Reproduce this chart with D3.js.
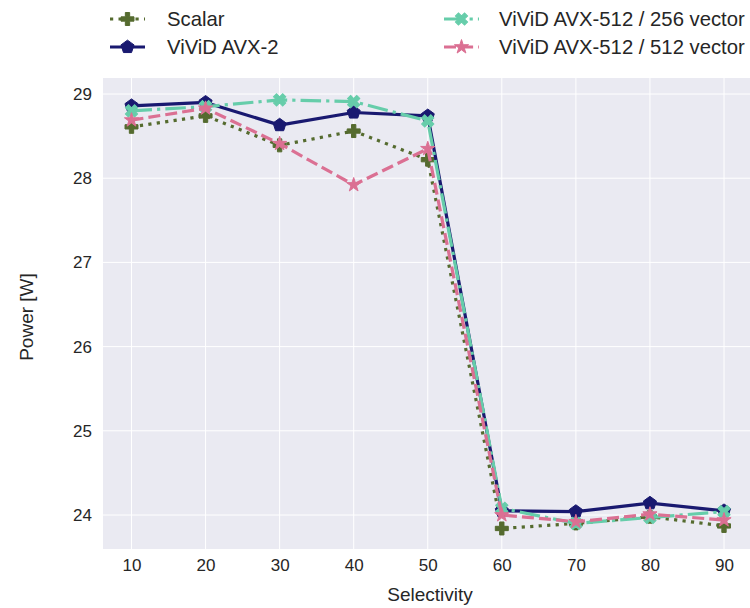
<!DOCTYPE html>
<html><head><meta charset="utf-8">
<script src="https://cdn.jsdelivr.net/npm/d3@7"></script>
<style>body{margin:0;background:#fff;} text{font-family:"Liberation Sans",Arial,sans-serif;fill:#262626;}</style>
</head><body><svg id="c" width="750" height="608"></svg>
<script>
const selectivity = [10,20,30,40,50,60,70,80,90];
const scalar   = [28.61,28.74,28.39,28.56,28.22,23.84,23.90,23.98,23.87];
const avx2     = [28.86,28.90,28.63,28.78,28.74,24.05,24.04,24.14,24.05];
const avx256   = [28.80,28.85,28.93,28.91,28.68,24.08,23.90,23.97,24.04];
const avx512   = [28.69,28.83,28.41,27.92,28.35,24.00,23.92,24.01,23.94];
const seriesNames = ["Scalar","ViViD AVX-2","ViViD AVX-512 / 256 vector","ViViD AVX-512 / 512 vector"];
const yTicks = [24,25,26,27,28,29];

const series = [
 {name:seriesNames[0], values:scalar, color:"#556b2f", dash:"3.2,5.3", marker:"plus"},
 {name:seriesNames[1], values:avx2, color:"#191970", dash:null, marker:"pentagon"},
 {name:seriesNames[2], values:avx256, color:"#66cdaa", dash:"20.5,5.1,3.2,5.1", marker:"x"},
 {name:seriesNames[3], values:avx512, color:"#db7093", dash:"12,5.1", marker:"star"}
];

const svg = d3.select("#c");
const L=103, T=78, B=549, R=750;
const x = d3.scaleLinear().domain([10,90]).range([131.5,724]);
const y = d3.scaleLinear().domain([24,29]).range([515,94]);

svg.append("rect").attr("x",L).attr("y",T).attr("width",R-L).attr("height",B-T).attr("fill","#eaeaf2");
const g = svg.append("g");
g.selectAll(".gx").data(selectivity).join("line").attr("x1",d=>x(d)).attr("x2",d=>x(d)).attr("y1",T).attr("y2",B).attr("stroke","#fff").attr("stroke-width",1);
g.selectAll(".gy").data(yTicks).join("line").attr("x1",L).attr("x2",R).attr("y1",d=>y(d)).attr("y2",d=>y(d)).attr("stroke","#fff").attr("stroke-width",1);

const xa = svg.append("g").attr("transform",`translate(0,${B})`).call(d3.axisBottom(x).tickValues(selectivity).tickSize(0).tickPadding(10).tickFormat(d3.format("d")));
xa.select(".domain").remove();
xa.selectAll("text").style("font-size","17px").attr("fill","#262626");
const ya = svg.append("g").attr("transform",`translate(${L},0)`).call(d3.axisLeft(y).tickValues(yTicks).tickSize(0).tickPadding(11).tickFormat(d3.format("d")));
ya.select(".domain").remove();
ya.selectAll("text").style("font-size","17px").attr("fill","#262626");

svg.append("text").attr("x",430).attr("y",601).attr("text-anchor","middle").style("font-size","19px").text("Selectivity");
svg.append("text").attr("transform","translate(33,317) rotate(-90)").attr("text-anchor","middle").style("font-size","19px").text("Power [W]");

function markerPath(type, s){
  if(type==="plus" || type==="x") return d3.symbol(d3.symbolCross, s*s*0.6)();
  if(type==="star") return d3.symbol(d3.symbolStar, s*s*0.4)();
  if(type==="pentagon"){
    const r=s*0.55; let p=[];
    for(let i=0;i<5;i++){const a=-Math.PI/2+i*2*Math.PI/5;p.push([r*Math.cos(a),r*Math.sin(a)]);}
    return "M"+p.map(q=>q.join(",")).join("L")+"Z";
  }
}
function drawMarker(sel, type, color, s){
  sel.append("path").attr("d",markerPath(type,s)).attr("fill",color).attr("stroke",color).attr("stroke-width",1)
    .attr("transform", type==="x" ? "rotate(45)" : null);
}

svg.append("clipPath").attr("id","clp").append("rect").attr("x",L).attr("y",T).attr("width",R-L).attr("height",B-T);
const plot = svg.append("g").attr("clip-path","url(#clp)");
const line = d3.line().x((d,i)=>x(selectivity[i])).y(d=>y(d));
series.forEach(s=>{
  const gg = plot.append("g");
  gg.append("path").attr("d",line(s.values)).attr("fill","none").attr("stroke",s.color).attr("stroke-width",3.2)
    .attr("stroke-dasharray",s.dash).attr("stroke-linejoin","round");
  s.values.forEach((v,i)=>{
    const m = gg.append("g").attr("transform",`translate(${x(selectivity[i])},${y(v)})`);
    drawMarker(m, s.marker, s.color, 12.5);
  });
});

const leg = [
 {s:series[0], hx:110, tx:167, ty:19},
 {s:series[1], hx:110, tx:167, ty:47},
 {s:series[2], hx:444, tx:499, ty:19},
 {s:series[3], hx:444, tx:499, ty:47}
];
leg.forEach(l=>{
  const lg = svg.append("g");
  lg.append("line").attr("x1",l.hx).attr("x2",l.hx+35).attr("y1",l.ty).attr("y2",l.ty).attr("stroke",l.s.color).attr("stroke-width",3.2).attr("stroke-dasharray",l.s.dash);
  const m = lg.append("g").attr("transform",`translate(${l.hx+17.5},${l.ty})`);
  drawMarker(m, l.s.marker, l.s.color, 12.5);
  lg.append("text").attr("x",l.tx).attr("y",l.ty).attr("dy","0.35em").style("font-size","20.3px").text(l.s.name);
});
</script></body></html>
